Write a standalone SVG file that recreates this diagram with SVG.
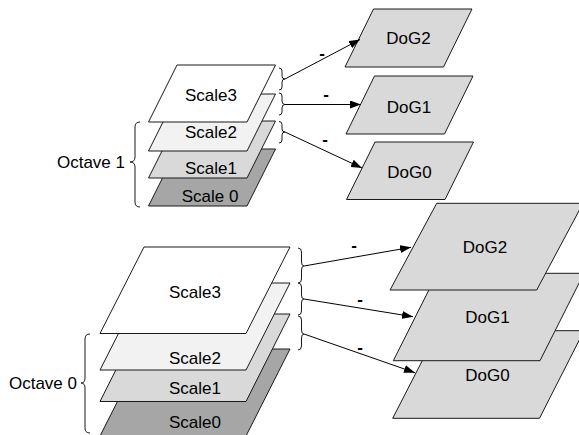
<svg xmlns="http://www.w3.org/2000/svg" width="579" height="435" viewBox="0 0 579 435">
<defs>
<style>
.l{stroke:#1a1a1a;stroke-width:1}
.w{fill:#ffffff}
.s2{fill:#f2f2f2}
.s1{fill:#d9d9d9}
.s0{fill:#a6a6a6}
.d{fill:#d9d9d9}
text{font-family:"Liberation Sans",Arial,sans-serif;font-size:17px;fill:#000;text-anchor:middle}
.lbl{text-anchor:end}
.m{font-weight:bold}
.br{fill:none;stroke:#1a1a1a;stroke-width:1}
.ar{fill:none;stroke:#000;stroke-width:1;marker-end:url(#ah)}
</style>
<marker id="ah" markerUnits="userSpaceOnUse" markerWidth="11" markerHeight="8" refX="11" refY="4" orient="auto">
<path d="M0,0 L11,4 L0,8 z" fill="#000"/>
</marker>
</defs>
<rect width="579" height="435" fill="#fff"/>

<!-- Octave 1 stack -->
<g id="o1-scale0"><polygon class="l s0" points="177,149 275.5,149 247,206 148.5,206"/><text x="210" y="202">Scale 0</text></g>
<g id="o1-scale1"><polygon class="l s1" points="177,121 275.5,121 247,178 148.5,178"/><text x="211" y="173.5">Scale1</text></g>
<g id="o1-scale2"><polygon class="l s2" points="177,94 275.5,94 247,151 148.5,151"/><text x="211" y="138">Scale2</text></g>
<g id="o1-scale3"><polygon class="l w" points="177,65 275.5,65 247,122 148.5,122"/><text x="211" y="100.5">Scale3</text></g>
<g id="octave1"><text class="lbl" x="125" y="168">Octave 1</text><path class="br" d="M140,122 Q135,122 135,127 L135,157 Q135,162 130,162 Q135,162 135,167 L135,202 Q135,207 140,207"/></g>

<!-- Octave 1 DoG -->
<g id="o1-dog2"><polygon class="l d" points="373.5,9 472,9 443.5,67 345,67"/><text x="408.5" y="44">DoG2</text></g>
<g id="o1-dog1"><polygon class="l d" points="374.5,76 473,76 444.5,134 346,134"/><text x="409" y="112.5">DoG1</text></g>
<g id="o1-dog0"><polygon class="l d" points="375,142 473.5,142 445,199.5 346.5,199.5"/><text x="409.5" y="177.5">DoG0</text></g>

<!-- Octave 0 stack -->
<g id="o0-scale0"><polygon class="l s0" points="144,349 290,349 246,436 100,436"/><text x="195" y="427.5">Scale0</text></g>
<g id="o0-scale1"><polygon class="l s1" points="144,314 290,314 246,401.5 100,401.5"/><text x="195" y="394">Scale1</text></g>
<g id="o0-scale2"><polygon class="l s2" points="144,283 290,283 246,370 100,370"/><text x="195" y="364">Scale2</text></g>
<g id="o0-scale3"><polygon class="l w" points="144,247 290,247 246,333.5 100,333.5"/><text x="195" y="297.5">Scale3</text></g>
<g id="octave0"><text class="lbl" x="77" y="389">Octave 0</text><path class="br" d="M90,334 Q85,334 85,339 L85,378 Q85,383 81,383 Q85,383 85,388 L85,428 Q85,433 90,433"/></g>

<!-- Octave 0 DoG -->
<g id="o0-dog0"><polygon class="l d" points="437.7,330.7 584,330.7 539.5,418.3 392.7,418.3"/><text x="487.5" y="380.5">DoG0</text></g>
<g id="o0-dog1"><polygon class="l d" points="437.3,273.3 584,273.3 540,360.7 393.3,360.7"/><text x="487.5" y="323">DoG1</text></g>
<g id="o0-dog2"><polygon class="l d" points="436.7,203.3 583,203.3 536.7,290 390,290"/><text x="485" y="253">DoG2</text></g>

<!-- connectors -->
<g id="connectors">
<path class="br" d="M279,68 Q282,68 282,71 L282,76 Q282,79 285,79 Q282,79 282,82 L282,87 Q282,90 279,90"/>
<path class="br" d="M279,93 Q282,93 282,96 L282,101 Q282,104.5 285,104.5 Q282,104.5 282,108 L282,112 Q282,115 279,115"/>
<path class="br" d="M279,121.5 Q282,121.5 282,124.5 L282,129 Q282,132 285,132 Q282,132 282,135 L282,140 Q282,143 279,143"/>
<path class="br" d="M298,248 Q301.5,248 301.5,252 L301.5,262 Q301.5,266 304,266 Q301.5,266 301.5,270 L301.5,279 Q301.5,283 298,283"/>
<path class="br" d="M298,283 Q301.5,283 301.5,287 L301.5,295 Q301.5,299 304,299 Q301.5,299 301.5,303 L301.5,311 Q301.5,315 298,315"/>
<path class="br" d="M298,316 Q301.5,316 301.5,320 L301.5,330 Q301.5,334 304,334 Q301.5,334 301.5,338 L301.5,346 Q301.5,350 298,350"/>
<line class="ar" x1="285" y1="79" x2="360" y2="39.5"/>
<line class="ar" x1="285" y1="104.5" x2="361" y2="104.5"/>
<line class="ar" x1="285" y1="132" x2="362" y2="168"/>
<line class="ar" x1="304" y1="266" x2="411" y2="247.3"/>
<line class="ar" x1="304" y1="299" x2="413" y2="316.7"/>
<line class="ar" x1="304" y1="334" x2="415" y2="372.7"/>
<text class="m" x="322" y="58.5">-</text>
<text class="m" x="326" y="99.5">-</text>
<text class="m" x="325" y="144.5">-</text>
<text class="m" x="354" y="251">-</text>
<text class="m" x="360" y="304.5">-</text>
<text class="m" x="360" y="352.5">-</text>
</g>
</svg>
